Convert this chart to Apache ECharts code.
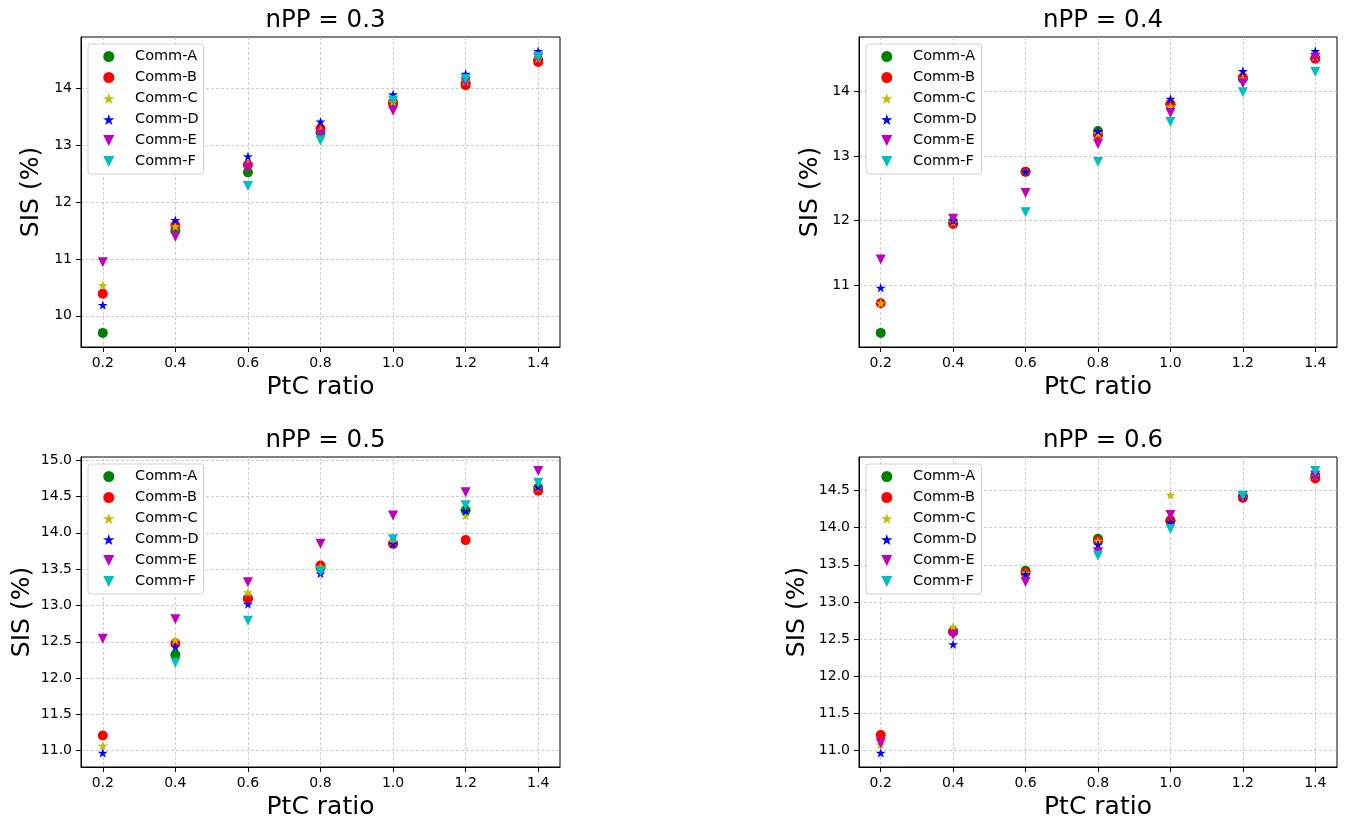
<!DOCTYPE html>
<html><head><meta charset="utf-8">
<script src="https://cdn.jsdelivr.net/npm/echarts@6/dist/echarts.min.js"></script>
<style>html,body{margin:0;padding:0;background:#fff}#c{width:1347px;height:825px}</style>
</head><body><div id="c"></div>
<script>
// ---------- data ----------
const ptcRatio = [0.2, 0.4, 0.6, 0.8, 1.0, 1.2, 1.4];
const commNames = ['Comm-A', 'Comm-B', 'Comm-C', 'Comm-D', 'Comm-E', 'Comm-F'];
const panelTitles = ['nPP = 0.3', 'nPP = 0.4', 'nPP = 0.5', 'nPP = 0.6'];
const xTicks = [0.2, 0.4, 0.6, 0.8, 1.0, 1.2, 1.4];
const yTicks03 = [10, 11, 12, 13, 14];
const yTicks04 = [11, 12, 13, 14];
const yTicks05 = [11.0, 11.5, 12.0, 12.5, 13.0, 13.5, 14.0, 14.5, 15.0];
const yTicks06 = [11.0, 11.5, 12.0, 12.5, 13.0, 13.5, 14.0, 14.5];

// nPP = 0.3
const nPP03_A = [9.70, 11.50, 12.52, 13.22, 13.74, 14.10, 14.50];
const nPP03_B = [10.39, 11.59, 12.65, 13.29, 13.74, 14.05, 14.46];
const nPP03_C = [10.54, 11.57, 12.67, 13.26, 13.76, 14.12, 14.52];
const nPP03_D = [10.19, 11.68, 12.80, 13.41, 13.89, 14.25, 14.65];
const nPP03_E = [10.94, 11.39, 12.60, 13.19, 13.60, 14.11, 14.53];
const nPP03_F = [null, null, 12.28, 13.08, 13.78, 14.16, 14.55];
// nPP = 0.4
const nPP04_A = [10.26, 11.98, 12.76, 13.39, 13.80, 14.20, 14.52];
const nPP04_B = [10.72, 11.95, 12.76, 13.33, 13.81, 14.22, 14.51];
const nPP04_C = [10.72, 11.98, 12.76, 13.35, 13.77, 14.20, 14.55];
const nPP04_D = [10.96, 12.00, 12.76, 13.39, 13.89, 14.32, 14.63];
const nPP04_E = [11.40, 12.03, 12.43, 13.19, 13.67, 14.13, 14.53];
const nPP04_F = [null, null, 12.13, 12.91, 13.53, 13.99, 14.31];
// nPP = 0.5
const nPP05_A = [null, 12.32, 13.10, 13.52, 13.85, 14.31, 14.62];
const nPP05_B = [11.21, 12.48, 13.09, 13.55, 13.85, 13.90, 14.58];
const nPP05_C = [11.07, 12.52, 13.18, 13.53, 13.88, 14.24, 14.62];
const nPP05_D = [10.97, 12.43, 13.02, 13.44, 13.85, 14.30, 14.63];
const nPP05_E = [12.54, 12.81, 13.32, 13.85, 14.24, 14.56, 14.85];
const nPP05_F = [null, 12.21, 12.79, 13.47, 13.91, 14.38, 14.69];
// nPP = 0.6
const nPP06_A = [null, 12.60, 13.42, 13.85, 14.10, 14.42, 14.70];
const nPP06_B = [11.21, 12.60, 13.39, 13.82, 14.09, 14.40, 14.66];
const nPP06_C = [11.08, 12.67, 13.39, 13.82, 14.44, 14.42, 14.70];
const nPP06_D = [10.97, 12.43, 13.37, 13.77, 14.07, 14.42, 14.71];
const nPP06_E = [11.10, 12.56, 13.27, 13.67, 14.17, 14.42, 14.70];
const nPP06_F = [null, null, null, 13.62, 13.98, 14.43, 14.76];

// ---------- styling ----------
const FONT = 'DejaVu Sans';
const colors = ['#008000', '#ff0000', '#bfbf00', '#0000ff', '#bf00bf', '#00bfbf'];
const STAR = 'path://M50,0 L61.23,34.55 L97.55,34.55 L68.17,55.9 L79.39,90.45 L50,69.1 L20.61,90.45 L31.83,55.9 L2.45,34.55 L38.77,34.55 Z';
const TRI_DOWN = 'path://M0,0 L10,0 L5,10 Z';
const symbols = ['circle', 'circle', STAR, STAR, TRI_DOWN, TRI_DOWN];

const panels = [
  {title: panelTitles[0], series: [nPP03_A, nPP03_B, nPP03_C, nPP03_D, nPP03_E, nPP03_F], yTicks: yTicks03, dec: 0,
   grid: {left: 81, top: 37, width: 479, height: 310}, nameGap: 37},
  {title: panelTitles[1], series: [nPP04_A, nPP04_B, nPP04_C, nPP04_D, nPP04_E, nPP04_F], yTicks: yTicks04, dec: 0,
   grid: {left: 859, top: 37, width: 478, height: 310}, nameGap: 36},
  {title: panelTitles[2], series: [nPP05_A, nPP05_B, nPP05_C, nPP05_D, nPP05_E, nPP05_F], yTicks: yTicks05, dec: 1,
   grid: {left: 81, top: 457, width: 479, height: 310}, nameGap: 46},
  {title: panelTitles[3], series: [nPP06_A, nPP06_B, nPP06_C, nPP06_D, nPP06_E, nPP06_F], yTicks: yTicks06, dec: 1,
   grid: {left: 859, top: 457, width: 478, height: 310}, nameGap: 49}
];

function padRange(vals) {
  let lo = Infinity, hi = -Infinity;
  vals.forEach(v => { if (v != null) { lo = Math.min(lo, v); hi = Math.max(hi, v); } });
  const m = (hi - lo) * 0.05;
  return [lo - m, hi + m];
}
const xRange = padRange(ptcRatio);

const option = {
  animation: false,
  backgroundColor: '#fff',
  textStyle: {fontFamily: FONT},
  title: [], grid: [], xAxis: [], yAxis: [], legend: [], series: []
};

const splitLineStyle = {show: true, lineStyle: {color: '#c0c0c0', width: 0.8, type: [3, 2]}};

panels.forEach((p, gi) => {
  const g = p.grid;
  option.grid.push({left: g.left, top: g.top, width: g.width, height: g.height,
    show: true, borderColor: '#000', borderWidth: 1, containLabel: false});
  option.title.push({text: p.title, left: g.left + g.width / 2, top: g.top - 34, textAlign: 'center',
    textStyle: {fontFamily: FONT, fontSize: 24.5, fontWeight: 'normal', color: '#000'}});
  option.xAxis.push({
    type: 'value', gridIndex: gi, min: xRange[0], max: xRange[1],
    name: 'PtC ratio', nameLocation: 'middle', nameGap: 28,
    nameTextStyle: {fontFamily: FONT, fontSize: 25, color: '#000'},
    axisLine: {show: true, onZero: false, lineStyle: {color: '#000', width: 1}},
    axisTick: {show: true, length: 5, customValues: xTicks, lineStyle: {color: '#000', width: 1}},
    axisLabel: {show: true, customValues: xTicks, margin: 9, fontFamily: FONT, fontSize: 14, color: '#000',
      formatter: v => v.toFixed(1)},
    splitLine: splitLineStyle, minorTick: {show: false}
  });
  const allVals = [].concat(...p.series);
  const yr = padRange(allVals);
  option.yAxis.push({
    type: 'value', gridIndex: gi, min: yr[0], max: yr[1],
    name: 'SIS (%)', nameLocation: 'middle', nameGap: p.nameGap,
    nameTextStyle: {fontFamily: FONT, fontSize: 25, color: '#000'},
    axisLine: {show: true, onZero: false, lineStyle: {color: '#000', width: 1}},
    axisTick: {show: true, length: 5, customValues: p.yTicks, lineStyle: {color: '#000', width: 1}},
    axisLabel: {show: true, customValues: p.yTicks, margin: 9, fontFamily: FONT, fontSize: 14, color: '#000',
      formatter: v => v.toFixed(p.dec)},
    splitLine: splitLineStyle, minorTick: {show: false}
  });
  option.legend.push({
    left: g.left + 7, top: g.top + 7, orient: 'vertical',
    padding: [5, 5, 5, 15], itemGap: 6, itemWidth: 24, itemHeight: 11,
    backgroundColor: 'rgba(255,255,255,0.85)', borderColor: '#d0d0d0', borderWidth: 1, borderRadius: 3,
    textStyle: {fontFamily: FONT, fontSize: 14.5, color: '#000', lineHeight: 14},
    formatter: name => '  ' + name,
    data: commNames.map((n, k) => ({name: n, icon: symbols[k]}))
  });
  p.series.forEach((arr, k) => {
    const data = [];
    ptcRatio.forEach((x, i) => { if (arr[i] != null) data.push([x, arr[i]]); });
    option.series.push({
      type: 'scatter', name: commNames[k], xAxisIndex: gi, yAxisIndex: gi,
      symbol: symbols[k], symbolSize: 10, symbolKeepAspect: true,
      itemStyle: {color: colors[k], opacity: 1},
      emphasis: {disabled: true},
      data: data
    });
  });
});

const chart = echarts.init(document.getElementById('c'), null, {renderer: 'canvas'});
chart.setOption(option);
</script>
</body></html>
